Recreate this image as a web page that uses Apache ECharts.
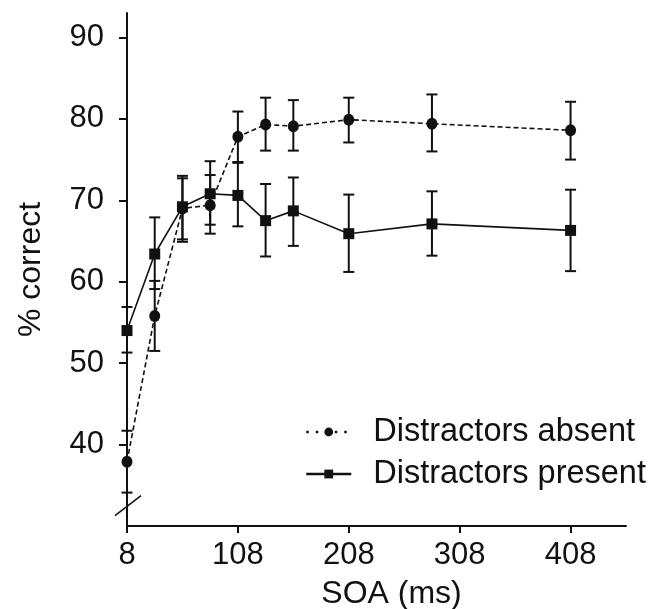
<!DOCTYPE html>
<html>
<head>
<meta charset="utf-8">
<script src="https://cdn.jsdelivr.net/npm/echarts@6/dist/echarts.min.js"></script>
<style>html,body{margin:0;padding:0;background:#fff}#c{width:660px;height:609px}</style>
</head>
<body>
<div id="c"></div>
<script>
const soa = [8, 33, 58, 83, 108, 133, 158, 208, 283, 408];
const absentMean = [37.9, 55.8, 69.0, 69.4, 77.8, 79.3, 79.1, 79.9, 79.4, 78.6];
const absentLow  = [34.1, 51.5, 64.9, 65.9, 74.7, 76.1, 76.1, 77.1, 76.0, 75.0];
const absentHigh = [41.7, 60.1, 72.7, 73.1, 80.9, 82.6, 82.3, 82.6, 83.0, 82.1];
const presentMean = [54.0, 63.4, 69.2, 70.8, 70.6, 67.5, 68.7, 65.9, 67.1, 66.3];
const presentLow  = [51.3, 59.1, 65.2, 67.0, 66.8, 63.1, 64.4, 61.2, 63.2, 61.3];
const presentHigh = [56.9, 67.9, 73.0, 74.8, 74.6, 72.0, 72.8, 70.7, 71.1, 71.3];
const xTicks = [8, 108, 208, 308, 408];
const yTicks = [40, 50, 60, 70, 80, 90];
const names = ['Distractors absent', 'Distractors present'];

const FONT = '"Liberation Sans", Arial, Helvetica, sans-serif';

function errRender(params, api) {
  const x = api.value(0), lo = api.value(1), hi = api.value(2);
  const p1 = api.coord([x, lo]), p2 = api.coord([x, hi]);
  const hw = 5.5;
  const style = { stroke: '#111', lineWidth: 2 };
  return { type: 'group', children: [
    { type: 'line', shape: { x1: p1[0], y1: p1[1], x2: p2[0], y2: p2[1] }, style },
    { type: 'line', shape: { x1: p1[0] - hw, y1: p1[1], x2: p1[0] + hw, y2: p1[1] }, style },
    { type: 'line', shape: { x1: p2[0] - hw, y1: p2[1], x2: p2[0] + hw, y2: p2[1] }, style }
  ]};
}

const chart = echarts.init(document.getElementById('c'), null, { renderer: 'canvas' });
const option = {
  animation: false,
  backgroundColor: '#fff',
  grid: { left: 127, right: 34, top: 13, bottom: 83, containLabel: false, outerBoundsMode: 'none' },
  xAxis: {
    type: 'value', min: 8, max: 458,
    name: 'SOA (ms)', nameLocation: 'middle', nameGap: 52,
    nameTextStyle: { fontFamily: FONT, fontSize: 32, color: '#111', padding: [0, 0, 0, 30] },
    axisLine: { lineStyle: { color: '#111', width: 2 } },
    axisTick: { show: true, length: 7, lineStyle: { color: '#111', width: 2 }, customValues: xTicks },
    axisLabel: { fontFamily: FONT, fontSize: 31, color: '#111', margin: 14, customValues: xTicks },
    splitLine: { show: false }
  },
  yAxis: {
    type: 'value', min: 30, max: 93,
    name: '% correct', nameLocation: 'middle', nameGap: 80, nameRotate: 90,
    nameTextStyle: { fontFamily: FONT, fontSize: 32, color: '#111' },
    axisLine: { show: true, lineStyle: { color: '#111', width: 2 } },
    axisTick: { show: true, length: 8, lineStyle: { color: '#111', width: 2 }, customValues: yTicks },
    axisLabel: { fontFamily: FONT, fontSize: 31, color: '#111', margin: 23, customValues: yTicks },
    splitLine: { show: false }
  },
  legend: {
    orient: 'vertical', left: 300, top: 409,
    itemWidth: 45, itemHeight: 11, itemGap: 6,
    textStyle: { fontFamily: FONT, fontSize: 32.5, color: '#111', lineHeight: 36, padding: [0, 0, 0, 17] },
    data: [
      { name: names[0], lineStyle: { type: [2.5, 7], width: 2.5, color: '#111' } },
      { name: names[1], lineStyle: { type: 'solid', width: 2.5, color: '#111' } }
    ]
  },
  series: [
    {
      type: 'custom', name: 'errAbsent', renderItem: errRender, clip: false, z: 1,
      data: soa.map((x, i) => [x, absentLow[i], absentHigh[i]]), silent: true
    },
    {
      type: 'custom', name: 'errPresent', renderItem: errRender, clip: false, z: 1,
      data: soa.map((x, i) => [x, presentLow[i], presentHigh[i]]), silent: true
    },
    {
      type: 'line', name: names[0], clip: false, z: 3,
      data: soa.map((x, i) => [x, absentMean[i]]),
      symbol: 'circle', symbolSize: [11, 12],
      itemStyle: { color: '#111' },
      lineStyle: { color: '#111', width: 1.6, type: [5, 3] }
    },
    {
      type: 'line', name: names[1], clip: false, z: 3,
      data: soa.map((x, i) => [x, presentMean[i]]),
      symbol: 'rect', symbolSize: 11,
      itemStyle: { color: '#111' },
      lineStyle: { color: '#111', width: 1.6, type: 'solid' }
    }
  ]
};
chart.setOption(option);

// axis-break slash on the y axis
const bp = chart.convertToPixel({ gridIndex: 0 }, [8, 32.5]);
chart.setOption({
  graphic: [{
    type: 'line', z: 10,
    shape: { x1: bp[0] - 12, y1: bp[1] + 10, x2: bp[0] + 14, y2: bp[1] - 10 },
    style: { stroke: '#111', lineWidth: 1.5 }
  }]
});
</script>
</body>
</html>
